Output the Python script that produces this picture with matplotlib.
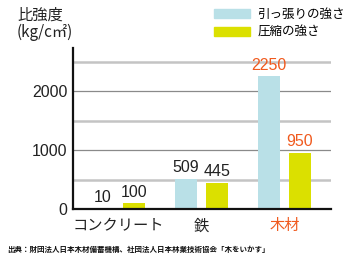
import numpy as np
import matplotlib.pyplot as plt
from matplotlib.patches import Patch

plt.rcParams['font.family'] = ['Noto Sans CJK JP', 'DejaVu Sans']

categories = ['コンクリート', '鉄', '木材']
tension = [10, 509, 2250]
compression = [100, 445, 950]
series_names = ['引っ張りの強さ', '圧縮の強さ']
yticks = [0, 1000, 2000]

blue = '#b9e0e7'
yellow = '#dbe000'
orange = '#f05a1e'
num_font = ['Liberation Sans', 'DejaVu Sans']

fig = plt.figure(figsize=(3.5, 2.6), dpi=100)
ax = fig.add_axes([0.2086, 0.196, 0.737, 0.619])

x = np.arange(len(categories))
w = 0.265
off = 0.187

# grid lines
for v in [500, 1500, 2500]:
    ax.axhline(v, color='#c4c4c4', lw=1.8, zorder=0)
for v in [1000, 2000]:
    ax.axhline(v, color='#8a8a8a', lw=0.9, zorder=0)

ax.bar(x - off, tension, w, color=blue, zorder=2)
ax.bar(x + off, compression, w, color=yellow, zorder=2)

for i in range(len(categories)):
    c = orange if i == 2 else '#222222'
    ax.text(x[i] - off, tension[i] + 60, str(tension[i]), ha='center', va='bottom',
            fontsize=11.5, color=c, family=num_font)
    ax.text(x[i] + off, compression[i] + 60, str(compression[i]), ha='center', va='bottom',
            fontsize=11.5, color=c, family=num_font)

ax.set_xlim(-0.548, 2.56)
ax.set_ylim(0, 2730)
ax.set_yticks(yticks)
ax.set_yticklabels([str(t) for t in yticks], fontsize=11.5, color='#222222', family=num_font)
ax.set_xticks(x)
ax.set_xticklabels(categories, fontsize=11, color='#222222')
ax.get_xticklabels()[2].set_color(orange)
ax.tick_params(axis='both', length=0, pad=4)
ax.tick_params(axis='x', pad=6)

for s in ['top', 'right']:
    ax.spines[s].set_visible(False)
for s in ['left', 'bottom']:
    ax.spines[s].set_linewidth(1.6)
    ax.spines[s].set_color('#111111')

fig.text(17 / 350, 1 - 15 / 260, '比強度', fontsize=11, va='center', ha='left', color='#222222')
fig.text(17 / 350, 1 - 32 / 260, '(kg/c㎡)', fontsize=11, va='center', ha='left', color='#222222')

handles = [Patch(color=blue), Patch(color=yellow)]
fig.legend(handles, series_names, loc='upper left', bbox_to_anchor=(209 / 350, 1 - 3 / 260),
           frameon=False, fontsize=9, handlelength=2.9, handleheight=0.8,
           handletextpad=0.55, labelspacing=0.4, borderaxespad=0)

fig.text(7 / 350, 1 - 249 / 260,
         '出典：財団法人日本木材備蓄機構、社団法人日本林業技術協会「木をいかす」',
         fontsize=5.4, va='center', ha='left', color='#111111', fontweight='bold')

fig.savefig('out.png', dpi=100)
